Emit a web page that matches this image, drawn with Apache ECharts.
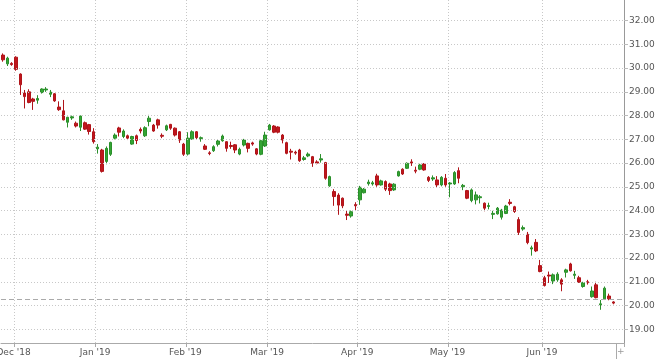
<!DOCTYPE html>
<html>
<head>
<meta charset="utf-8">
<script src="https://cdn.jsdelivr.net/npm/echarts@6/dist/echarts.min.js"></script>
<style>html,body{margin:0;padding:0;background:#fff;}#c{width:660px;height:359px;}</style>
</head>
<body>
<div id="c"></div>
<script>
// Trading dates (Nov 28 2018 - Jun 25 2019, plus two empty slots)
const months = [
  ['2018-11', [28,29,30]],
  ['2018-12', [3,4,6,7,10,11,12,13,14,17,18,19,20,21,24,26,27,28,31]],
  ['2019-01', [2,3,4,7,8,9,10,11,14,15,16,17,18,22,23,24,25,28,29,30,31]],
  ['2019-02', [1,4,5,6,7,8,11,12,13,14,15,19,20,21,22,25,26,27,28]],
  ['2019-03', [1,4,5,6,7,8,11,12,13,14,15,18,19,20,21,22,25,26,27,28,29]],
  ['2019-04', [1,2,3,4,5,8,9,10,11,12,15,16,17,18,22,23,24,25,26,29,30]],
  ['2019-05', [1,2,3,6,7,8,9,10,13,14,15,16,17,20,21,22,23,24,28,29,30,31]],
  ['2019-06', [3,4,5,6,7,10,11,12,13,14,17,18,19,20,21,24,25,26,27]]
];
const dates = [];
months.forEach(([m, ds]) => ds.forEach(d => dates.push(m + '-' + String(d).padStart(2,'0'))));

const opens = [30.55,30.18,30.2,30.46,29.75,28.95,29.0,28.7,28.65,28.97,29.08,28.9,28.92,28.36,28.2,27.72,27.9,27.68,27.51,27.7,27.62,27.32,
26.6,26.55,26.07,26.37,27.05,27.48,27.12,27.15,26.8,27.15,27.42,27.15,27.75,27.6,27.82,27.17,27.4,27.63,27.47,27.32,26.8,
26.38,27.02,27.32,27.03,26.72,26.43,26.52,26.79,26.94,26.9,26.74,26.77,26.38,26.76,26.83,26.85,26.6,26.37,26.72,
27.4,27.56,27.52,27.18,26.86,26.5,26.46,26.55,26.15,26.3,26.27,26.05,26.13,26.02,25.04,24.8,24.65,24.52,23.85,23.77,24.25,24.45,
24.75,25.13,25.12,25.46,25.08,25.22,25.12,24.87,25.46,25.74,25.78,26.05,25.7,25.74,25.96,25.4,25.33,25.29,25.08,25.36,
25.12,25.12,25.68,25.0,24.84,24.42,24.45,24.54,24.31,24.17,23.84,23.86,23.72,23.88,24.35,24.16,23.62,23.22,23.0,22.38,22.66,21.68,
21.17,21.28,21.03,21.08,21.08,21.4,21.75,21.27,21.17,20.8,21.0,20.37,20.87,20.03,20.28,20.4,20.15];
const closes = [30.35,30.42,30.15,29.95,29.3,28.8,28.55,28.6,28.72,29.12,29.12,28.99,28.62,28.25,27.82,27.93,27.95,27.56,27.98,27.43,27.33,26.9,
26.67,25.65,26.62,26.87,27.18,27.3,27.35,27.05,27.12,26.95,27.35,27.49,27.89,27.35,27.6,27.13,27.57,27.47,27.18,26.97,26.37,
27.05,27.32,27.07,27.07,26.58,26.4,26.69,26.93,27.14,26.62,26.7,26.55,26.58,26.97,26.62,26.8,26.38,26.94,27.18,
27.6,27.3,27.3,26.97,26.41,26.46,26.42,26.1,26.22,26.38,25.99,26.0,26.18,25.36,25.43,24.59,24.23,24.2,23.8,23.95,24.2,24.98,
24.9,25.2,25.17,25.08,25.25,24.9,24.84,25.11,25.64,25.54,25.99,26.0,25.66,25.92,25.71,25.27,25.38,25.08,25.4,25.08,
25.16,25.6,25.36,25.06,24.52,24.87,24.66,24.58,24.1,24.21,23.88,24.1,24.02,24.19,24.3,23.96,23.08,23.28,22.65,22.43,22.3,21.43,
20.84,21.24,21.29,21.32,20.9,21.5,21.46,21.32,20.98,20.96,20.96,20.61,20.33,20.07,20.73,20.28,20.1];
const lows = [30.27,30.09,30.1,29.89,28.87,28.3,28.52,28.24,28.5,28.93,29.0,28.78,28.58,28.2,27.8,27.5,27.82,27.5,27.35,27.4,27.2,26.82,
26.4,25.6,25.95,26.3,27.0,27.12,27.05,26.97,26.77,26.8,27.25,27.1,27.55,27.32,27.45,27.05,27.35,27.4,27.12,26.85,26.3,
26.32,26.98,27.0,26.9,26.55,26.33,26.47,26.7,26.9,26.48,26.6,26.42,26.33,26.7,26.45,26.73,26.33,26.33,26.68,
27.37,27.26,27.25,26.83,26.37,26.15,26.35,26.05,26.1,26.25,25.84,25.95,26.02,25.3,25.0,24.2,23.82,24.1,23.6,23.7,23.98,24.24,
24.72,25.05,25.05,25.0,25.05,24.82,24.66,24.83,25.43,25.5,25.75,25.88,25.57,25.7,25.68,25.2,25.25,24.98,25.02,25.0,
24.56,25.08,25.15,24.86,24.48,24.35,24.26,24.3,23.97,24.05,23.64,23.83,23.62,23.85,24.22,23.9,22.97,23.15,22.58,22.1,22.25,21.4,
20.8,20.95,20.9,21.0,20.6,21.18,21.43,21.12,20.95,20.75,20.88,20.33,20.3,19.82,20.23,20.22,20.05];
const highs = [30.62,30.48,30.25,30.5,29.78,29.08,29.11,28.75,28.86,29.15,29.2,29.08,28.95,28.6,28.66,27.95,28.0,27.75,28.0,27.75,27.65,27.47,
26.8,26.6,26.7,26.9,27.25,27.53,27.42,27.2,27.15,27.2,27.5,27.55,28.03,27.65,27.87,27.25,27.62,27.65,27.5,27.35,26.85,
27.3,27.38,27.35,27.12,26.8,26.5,26.75,26.98,27.2,26.92,26.9,26.8,26.65,27.02,26.86,26.9,26.63,26.98,27.32,
27.65,27.6,27.55,27.22,26.9,26.6,26.52,26.6,26.3,26.45,26.3,26.12,26.38,26.05,25.47,24.9,24.73,24.55,24.0,24.0,24.35,25.04,
24.95,25.3,25.25,25.55,25.3,25.27,25.17,25.15,25.68,25.78,26.03,26.16,25.85,25.97,26.0,25.45,25.48,25.45,25.45,25.54,
25.2,25.66,25.82,25.12,24.87,24.93,24.8,24.65,24.34,24.33,23.99,24.15,24.07,24.24,24.48,24.2,23.72,23.37,23.1,22.52,22.8,21.92,
21.25,21.43,21.35,21.4,21.15,21.55,21.8,21.46,21.25,21.0,21.08,20.8,21.0,20.23,20.8,20.5,20.18];

const yTicks = [19,20,21,22,23,24,25,26,27,28,29,30,31,32];
const lastPrice = 20.28;
const monthNames = ['Jan','Feb','Mar','Apr','May','Jun','Jul','Aug','Sep','Oct','Nov','Dec'];

const candles = opens.map((o, i) => [o, closes[i], lows[i], highs[i]]);

function isMonthStart(idx) {
  if (idx <= 0 || idx >= dates.length) return false;
  return dates[idx].slice(0,7) !== dates[idx-1].slice(0,7);
}
const fmtDate = d => monthNames[+d.slice(5,7)-1] + " '" + d.slice(2,4);

const chart = echarts.init(document.getElementById('c'), null, {renderer: 'canvas'});
const font = 'DejaVu Sans';
chart.setOption({
  animation: false,
  backgroundColor: '#fff',
  grid: {left: 1, right: 36, top: 0, bottom: 16, containLabel: false, outerBoundsMode: 'none'},
  xAxis: {
    type: 'category',
    data: dates,
    boundaryGap: true,
    axisLine: {show: true, lineStyle: {color: '#aaa', width: 1}},
    axisTick: {show: true, length: 4, interval: (i) => isMonthStart(i), lineStyle: {color: '#aaa'}},
    axisLabel: {
      interval: (i) => isMonthStart(i),
      formatter: fmtDate,
      fontFamily: font, fontSize: 9, color: '#555', margin: 5,
      padding: [0, 5, 0, 0]
    },
    splitLine: {show: true, interval: (i) => isMonthStart(i), lineStyle: {color: '#c8c8c8', type: [1,2], width: 1}}
  },
  yAxis: {
    type: 'value',
    position: 'right',
    min: 18.42, max: 32.87,
    scale: true,
    axisLine: {show: true, lineStyle: {color: '#999', width: 1}},
    axisTick: {show: true, length: 4, customValues: yTicks, lineStyle: {color: '#bbb'}},
    axisLabel: {customValues: yTicks, formatter: v => v.toFixed(2), fontFamily: font, fontSize: 9, color: '#555', margin: 5},
    splitLine: {show: false}
  },
  series: [
    {
      type: 'line', data: [], z: 1, silent: true,
      markLine: {
        silent: true, symbol: 'none', animation: false,
        label: {show: false},
        lineStyle: {color: '#c8c8c8', type: [1,2], width: 1},
        data: yTicks.map(v => ({yAxis: v}))
      }
    },
    {
      type: 'candlestick', z: 2,
      data: candles,
      barWidth: 3,
      itemStyle: {color: '#34a534', color0: '#c0161c', borderColor: '#2a8f2a', borderColor0: '#b0141a', borderWidth: 1},
      markLine: {
        silent: true, symbol: 'none', animation: false,
        label: {show: false},
        lineStyle: {color: '#aaa', type: [5,3], width: 1},
        data: [{yAxis: lastPrice}]
      }
    }
  ],
  graphic: [
    {type: 'line', shape: {x1: 616.5, y1: 343, x2: 616.5, y2: 359}, style: {stroke: '#aaa', lineWidth: 1}},
    {type: 'text', x: 617, y: 347, style: {text: '+', font: '9px DejaVu Sans', fill: '#999'}}
  ]
});
</script>
</body>
</html>
